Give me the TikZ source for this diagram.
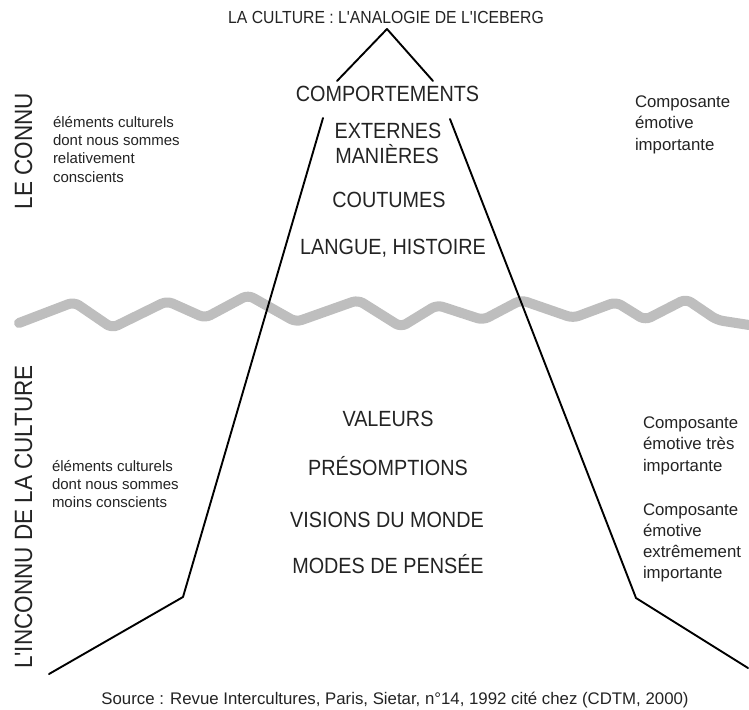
\documentclass[tikz,border=0pt]{standalone}
\usepackage{fontspec}
\setmainfont{Liberation Sans}
\newfontfamily\condfont[FakeStretch=0.9]{Liberation Sans}
\definecolor{ink}{RGB}{35,35,35}
\definecolor{wavegray}{RGB}{190,190,190}
\begin{document}
\begin{tikzpicture}[x=1pt,y=-1pt,
  txt/.style={inner sep=0pt, outer sep=0pt, text=ink},
  bigcap/.style={txt, anchor=base, font=\condfont\fontsize{22}{26}\selectfont},
  sidecap/.style={txt, anchor=base, rotate=90, font=\condfont\fontsize{25}{30}\selectfont},
  smalltxt/.style={txt, anchor=base west, font=\fontsize{15}{18}\selectfont},
  righttxt/.style={txt, anchor=base west, font=\fontsize{16.8}{20}\selectfont},
  iceline/.style={draw=black, line width=1.9pt, line join=round, line cap=round},
  wave/.style={draw=wavegray, line width=10pt, line join=round, line cap=round, rounded corners=6pt}]
\useasboundingbox (0,0) rectangle (749,709);

% water line
\draw[wave] (19,323) -- (74,302) -- (112,328) -- (167,301) -- (205,318) -- (248,295)
  -- (296,322) -- (358,300) -- (401,327) -- (437,305) -- (483,320) -- (521,300)
  -- (573,318) -- (616,302) -- (645,320) -- (686,299) -- (717,320) -- (749,325);

% iceberg outline
\coordinate (peakL) at (337,81);
\coordinate (peak) at (387,29);
\coordinate (peakR) at (433,81);
\coordinate (topL) at (323,118);
\coordinate (kneeL) at (183,597);
\coordinate (endL) at (49,674);
\coordinate (topR) at (450,119);
\coordinate (kneeR) at (636,598);
\coordinate (endR) at (748,668);
\draw[iceline] (peakL) -- (peak) -- (peakR);
\draw[iceline] (topL) -- (kneeL) -- (endL);
\draw[iceline] (topR) -- (kneeR) -- (endR);

% title
\node[txt, anchor=base, font=\condfont\fontsize{17.5}{20}\selectfont] (title) at (386,24)
  {LA CULTURE : L'ANALOGIE DE L'ICEBERG};

% visible part
\node[bigcap] (comp) at (387.5,101) {COMPORTEMENTS};
\node[bigcap] (ext) at (388,138) {EXTERNES};
\node[bigcap] (man) at (387,163) {MANIÈRES};
\node[bigcap] (cout) at (389,207) {COUTUMES};
\node[bigcap] (lang) at (393,254) {LANGUE, HISTOIRE};

% hidden part
\node[bigcap] (val) at (388,426) {VALEURS};
\node[bigcap] (pres) at (388,475) {PRÉSOMPTIONS};
\node[bigcap] (vis) at (387,527) {VISIONS DU MONDE};
\node[bigcap] (mod) at (388,573) {MODES DE PENSÉE};

% side labels
\node[sidecap] (connu) at (32,151) {LE CONNU};
\node[sidecap] (inconnu) at (32,517) {L'INCONNU DE LA CULTURE};

% left notes
\node[smalltxt] (lt1) at (53,127) {éléments culturels};
\node[smalltxt] (lt2) at (53,145.3) {dont nous sommes};
\node[smalltxt] (lt3) at (53,163.6) {relativement};
\node[smalltxt] (lt4) at (53,182) {conscients};

\node[smalltxt] (lb1) at (52,471) {éléments culturels};
\node[smalltxt] (lb2) at (52,489) {dont nous sommes};
\node[smalltxt] (lb3) at (52,507) {moins conscients};

% right notes
\node[righttxt] (rt1) at (635,107) {Composante};
\node[righttxt] (rt2) at (635,128.5) {émotive};
\node[righttxt] (rt3) at (635,150) {importante};

\node[righttxt] (rm1) at (643,428) {Composante};
\node[righttxt] (rm2) at (643,449.5) {émotive très};
\node[righttxt] (rm3) at (643,471) {importante};

\node[righttxt] (rb1) at (643,515) {Composante};
\node[righttxt] (rb2) at (643,536) {émotive};
\node[righttxt] (rb3) at (643,557) {extrêmement};
\node[righttxt] (rb4) at (643,578) {importante};

% source
\node[txt, anchor=base, font=\fontsize{16.8}{20}\selectfont] (src) at (395,704)
  {Source : Revue Intercultures, Paris, Sietar, n°14, 1992 cité chez (CDTM, 2000)};
\end{tikzpicture}
\end{document}
